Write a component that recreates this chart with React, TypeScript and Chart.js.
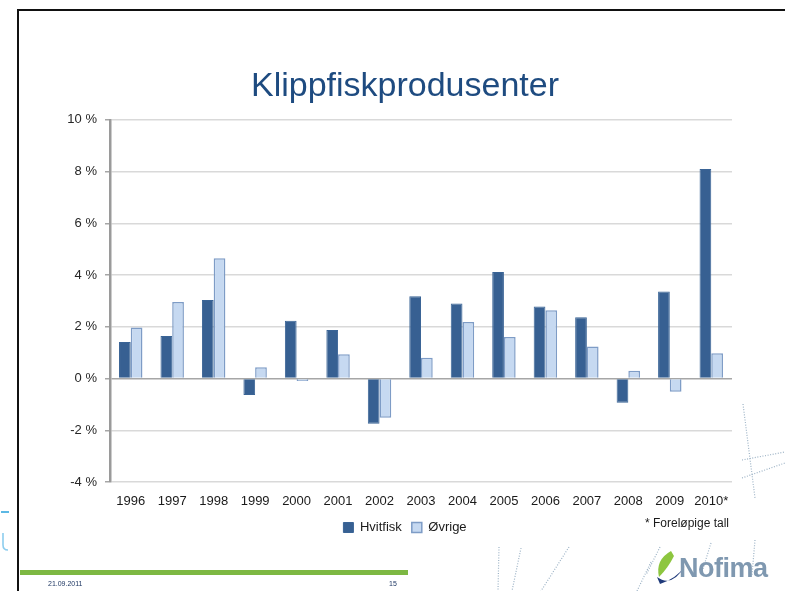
import React, { useEffect, useRef } from "react";
import { Chart, registerables } from "chart.js";

Chart.register(...registerables);

const years = ["1996", "1997", "1998", "1999", "2000", "2001", "2002", "2003", "2004", "2005", "2006", "2007", "2008", "2009", "2010*"];
const hvitfisk = [1.41, 1.64, 3.03, -0.64, 2.23, 1.88, -1.75, 3.18, 2.9, 4.12, 2.78, 2.37, -0.94, 3.36, 8.1];
const ovrige = [1.97, 2.96, 4.65, 0.44, -0.1, 0.94, -1.52, 0.8, 2.18, 1.6, 2.64, 1.24, 0.3, -0.51, 0.98];
const yMin = -4;
const yMax = 10;
const yStep = 2;
const titleText = "Klippfiskprodusenter";
const seriesNames = ["Hvitfisk", "Øvrige"];
const noteText = "* Foreløpige tall";
const footerDate = "21.09.2011";
const footerPage = "15";
const logoText = "Nofima";

const FONT = "'Liberation Sans', Arial, sans-serif";

const shiftPlugin = {
  id: "shiftBlocks",
  afterLayout(chart: any) {
    const dx = 18;
    if (chart.legend) chart.legend.left += dx;
    if (chart.titleBlock) chart.titleBlock.left += dx;
  },
};

export default function App() {
  const canvasRef = useRef<HTMLCanvasElement | null>(null);

  useEffect(() => {
    const canvas = canvasRef.current;
    if (!canvas) return;
    const chart = new Chart(canvas, {
      type: "bar",
      data: {
        labels: years,
        datasets: [
          {
            label: seriesNames[0],
            data: hvitfisk,
            backgroundColor: "#376092",
            borderColor: "#3A6496",
            borderWidth: 1,
            barPercentage: 1,
            categoryPercentage: 0.565,
          },
          {
            label: seriesNames[1],
            data: ovrige,
            backgroundColor: "#C6D9F1",
            borderColor: "#7E9CC6",
            borderWidth: 1.5,
            barPercentage: 1,
            categoryPercentage: 0.565,
          },
        ],
      },
      options: {
        animation: false,
        responsive: false,
        maintainAspectRatio: false,
        devicePixelRatio: 1,
        layout: { padding: { left: 60, right: 53, top: 0, bottom: 47 } },
        plugins: {
          tooltip: { enabled: false },
          title: {
            display: true,
            text: titleText,
            color: "#1E4B80",
            font: { family: FONT, size: 34, weight: "normal" },
            padding: { top: 66, bottom: 13 },
          },
          legend: {
            display: true,
            position: "bottom",
            labels: {
              boxWidth: 10,
              boxHeight: 10,
              padding: 10,
              color: "#1a1a1a",
              font: { family: FONT, size: 13 },
            },
          },
        },
        scales: {
          x: {
            afterFit: (scale: any) => {
              scale.height = 29;
            },
            grid: { display: false, drawTicks: false },
            border: { display: false },
            ticks: {
              color: "#1a1a1a",
              font: { family: FONT, size: 13 },
              padding: 12,
              maxRotation: 0,
              autoSkip: false,
            },
          },
          y: {
            min: yMin,
            max: yMax,
            afterFit: (scale: any) => {
              scale.width = 50;
            },
            ticks: {
              stepSize: yStep,
              color: "#262626",
              font: { family: FONT, size: 13 },
              padding: 8,
              callback: (v: any) => `${v} %`,
            },
            grid: {
              color: (ctx: any) => (ctx.tick && ctx.tick.value === 0 ? "#A6A6A6" : "#D9D9D9"),
              lineWidth: 1.5,
              tickLength: 5,
              drawTicks: true,
              tickColor: "#A6A6A6",
            },
            border: { display: true, color: "#9A9A9A", width: 2.5 },
          },
        },
      },
      plugins: [shiftPlugin],
    });
    return () => chart.destroy();
  }, []);

  const dot = { stroke: "#9DB3C6", strokeWidth: 1.2, strokeDasharray: "1 1.6", fill: "none" } as any;

  return (
    <div
      style={{
        position: "absolute",
        left: 0,
        top: 0,
        width: 785,
        height: 591,
        overflow: "hidden",
        background: "#ffffff",
        fontFamily: FONT,
      }}
    >
      <svg width={785} height={591} style={{ position: "absolute", left: 0, top: 0 }}>
        <line x1={743} y1={404} x2={755} y2={498} {...dot} />
        <line x1={742} y1={460} x2={785} y2={452} {...dot} />
        <line x1={742} y1={478} x2={785} y2={463} {...dot} />
        <line x1={499} y1={547} x2={498} y2={591} {...dot} />
        <line x1={521} y1={548} x2={512} y2={591} {...dot} />
        <line x1={569} y1={547} x2={541} y2={591} {...dot} />
        <line x1={651} y1={562} x2={637} y2={591} {...dot} />
        <line x1={660} y1={547} x2={646} y2={575} {...dot} />
        <line x1={711} y1={543} x2={702} y2={572} {...dot} />
        <line x1={755} y1={540} x2={752} y2={575} {...dot} />
        <line x1={1} y1={512} x2={9} y2={512} stroke="#5CB8E4" strokeWidth={2} />
        <path d="M 3 533 L 3 545 Q 3 550 8 550" stroke="#8CCDEE" strokeWidth={1.6} fill="none" />
        <path d="M 671 551 Q 655 560 659 577 Q 668 568 674 556 Z" fill="#8DC63F" />
        <path d="M 657 577 Q 672 588 685 566 Q 677 578 660 584 Z" fill="#1F3A7A" />
      </svg>
      <div style={{ position: "absolute", left: 18, top: 9, width: 767, height: 2, background: "#111" }} />
      <div style={{ position: "absolute", left: 17, top: 9, width: 2, height: 582, background: "#111" }} />
      <canvas
        ref={canvasRef}
        width={785}
        height={591}
        style={{ position: "absolute", left: 0, top: 0, width: 785, height: 591 }}
      />
      <div
        style={{
          position: "absolute",
          left: 645,
          top: 516,
          fontSize: 12,
          color: "#1a1a1a",
          whiteSpace: "nowrap",
        }}
      >
        {noteText}
      </div>
      <div style={{ position: "absolute", left: 20, top: 570, width: 388, height: 5, background: "#7DB843" }} />
      <div style={{ position: "absolute", left: 48, top: 580, fontSize: 7, color: "#1F3864" }}>{footerDate}</div>
      <div style={{ position: "absolute", left: 389, top: 580, fontSize: 7, color: "#1F3864" }}>{footerPage}</div>
      <div
        style={{
          position: "absolute",
          left: 679,
          top: 553,
          fontSize: 27,
          fontWeight: "bold",
          color: "#7F98B0",
          letterSpacing: -0.5,
          whiteSpace: "nowrap",
        }}
      >
        {logoText}
      </div>
    </div>
  );
}
